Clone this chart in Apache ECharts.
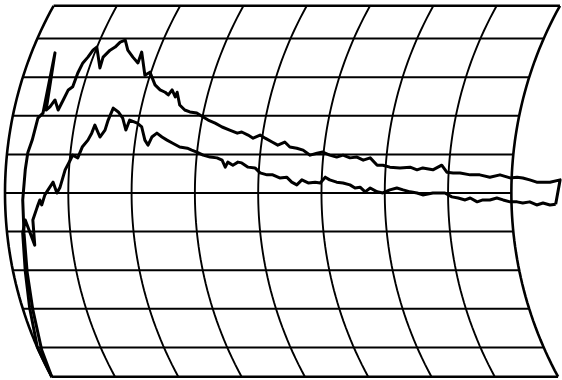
<!DOCTYPE html>
<html>
<head>
<meta charset="utf-8">
<script src="https://cdn.jsdelivr.net/npm/echarts@6/dist/echarts.min.js"></script>
<style>
  html, body {margin: 0; padding: 0; background: #fff;}
  #main {width: 562px; height: 380px;}
</style>
</head>
<body>
<div id="main"></div>
<script>
// chart paper: time divisions (arcs) and value levels (straight lines)
let timeDivs = [0, 1, 2, 3, 4, 5, 6, 7, 8];
let valueLevels = [1, 2, 3, 4, 5, 6, 7, 8, 9];
let paperTop = 9.85;
let paperBottom = 0.24;

// upper trace (x in time divisions, y in value divisions)
let upperX = [0.74, 0.58, 0.44, 0.35, 0.30, 0.28, 0.32, 0.36, 0.43, 0.52, 0.60, 0.79, 0.65, 0.71, 0.79, 0.84, 0.92, 1.00, 1.07, 1.15,
    1.23, 1.31, 1.39, 1.45, 1.50, 1.55, 1.66, 1.74, 1.82, 1.90, 1.94, 2.02, 2.10, 2.16, 2.21, 2.29, 2.37, 2.45, 2.53, 2.58,
    2.64, 2.69, 2.72, 2.76, 2.84, 2.92, 3.03, 3.13, 3.21, 3.32, 3.43, 3.55, 3.67, 3.74, 3.84, 3.92, 4.03, 4.11, 4.22, 4.31,
    4.42, 4.50, 4.61, 4.71, 4.82, 4.93, 5.02, 5.13, 5.24, 5.34, 5.45, 5.56, 5.66, 5.77, 5.88, 5.97, 6.08, 6.24, 6.40, 6.51,
    6.60, 6.76, 6.90, 6.98, 7.08, 7.19, 7.35, 7.50, 7.66, 7.82, 7.98, 8.09, 8.18, 8.29, 8.40, 8.50, 8.61, 8.77, 8.70];
let upperY = [0.23, 0.93, 1.97, 2.95, 3.96, 4.82, 5.60, 6.04, 6.37, 6.94, 7.07, 8.63, 7.15, 7.23, 7.41, 7.15, 7.41, 7.67, 7.75, 8.11,
    8.37, 8.52, 8.70, 8.78, 8.24, 8.52, 8.70, 8.78, 8.91, 8.96, 8.70, 8.52, 8.37, 8.65, 8.05, 8.13, 7.80, 7.67, 7.61, 7.54,
    7.67, 7.49, 7.61, 7.28, 7.15, 7.10, 7.07, 6.97, 6.89, 6.81, 6.71, 6.63, 6.55, 6.58, 6.50, 6.42, 6.50, 6.42, 6.32, 6.24,
    6.32, 6.19, 6.16, 6.11, 5.98, 6.03, 6.06, 5.98, 5.93, 5.98, 5.91, 5.93, 5.85, 5.91, 5.72, 5.72, 5.67, 5.65, 5.67, 5.60,
    5.65, 5.60, 5.72, 5.54, 5.52, 5.52, 5.47, 5.47, 5.41, 5.47, 5.39, 5.41, 5.39, 5.34, 5.28, 5.28, 5.28, 5.34, 4.71];

// lower trace
let lowerX = [0.74, 0.51, 0.39, 0.32, 0.28, 0.32, 0.47, 0.44, 0.51, 0.55, 0.58, 0.63, 0.68, 0.76, 0.82, 0.87, 0.95, 1.03, 1.07, 1.15,
    1.22, 1.31, 1.37, 1.42, 1.50, 1.58, 1.63, 1.71, 1.79, 1.86, 1.91, 1.97, 2.09, 2.16, 2.21, 2.26, 2.32, 2.40, 2.48, 2.56,
    2.65, 2.76, 2.88, 2.95, 3.03, 3.13, 3.24, 3.35, 3.43, 3.48, 3.52, 3.60, 3.68, 3.74, 3.84, 3.95, 4.03, 4.14, 4.23, 4.34,
    4.45, 4.53, 4.61, 4.69, 4.79, 4.90, 4.98, 5.06, 5.13, 5.24, 5.34, 5.45, 5.53, 5.61, 5.69, 5.77, 5.88, 5.97, 6.08, 6.19,
    6.29, 6.40, 6.51, 6.60, 6.76, 6.95, 7.06, 7.16, 7.27, 7.35, 7.46, 7.55, 7.66, 7.77, 7.87, 7.98, 8.09, 8.18, 8.29, 8.40,
    8.50, 8.61, 8.70];
let lowerY = [0.23, 1.01, 2.02, 2.98, 3.96, 4.30, 3.65, 4.30, 4.64, 4.82, 4.69, 4.95, 5.08, 5.28, 5.00, 5.15, 5.60, 5.85, 5.98, 5.91,
    6.19, 6.37, 6.55, 6.76, 6.45, 6.63, 6.89, 7.20, 7.10, 6.94, 6.63, 6.89, 6.81, 6.71, 6.37, 6.24, 6.45, 6.55, 6.45, 6.37,
    6.29, 6.19, 6.16, 6.11, 6.06, 5.98, 5.93, 5.91, 5.85, 5.67, 5.80, 5.72, 5.80, 5.78, 5.67, 5.65, 5.52, 5.47, 5.47, 5.39,
    5.41, 5.28, 5.21, 5.34, 5.26, 5.28, 5.26, 5.41, 5.34, 5.28, 5.26, 5.21, 5.13, 5.15, 5.03, 5.13, 5.03, 5.00, 5.08, 5.13,
    5.08, 5.03, 5.00, 4.95, 5.00, 5.00, 4.90, 4.87, 4.82, 4.87, 4.77, 4.82, 4.82, 4.87, 4.82, 4.77, 4.77, 4.74, 4.77, 4.69,
    4.74, 4.69, 4.71];

// pen arc shape (in axis units)
let arcMid = 5;
let arcA = 6.08;
let arcB = 9.97;

function bend(v){
    let t = (v - arcMid) / arcB;
    return arcA * (1 - Math.sqrt(1 - t * t));
}

function zip(xs, ys){
    let out = [];
    for (let i = 0; i < xs.length; i++){
        out.push([xs[i], ys[i]]);
    }
    return out;
}

function paperLine(data, width){
    return {
        type: 'line',
        data: data,
        symbol: 'none',
        silent: true,
        lineStyle: {color: '#000', width: width},
        z: 1
    };
}

let series = [];
let last = timeDivs[timeDivs.length - 1];

for (let k of timeDivs){
    let pts = [];
    for (let i = 0; i <= 60; i++){
        let v = paperBottom + (paperTop - paperBottom) * i / 60;
        pts.push([k + bend(v), v]);
    }
    let edge = (k === timeDivs[0] || k === last);
    series.push(paperLine(pts, edge ? 2.6 : 1.9));
}

for (let v of [paperBottom].concat(valueLevels, [paperTop])){
    let edge = (v === paperBottom || v === paperTop);
    series.push(paperLine([[timeDivs[0] + bend(v), v], [last + bend(v), v]], edge ? 2.4 : 2));
}

for (let trace of [zip(upperX, upperY), zip(lowerX, lowerY)]){
    series.push({
        type: 'line',
        data: trace,
        symbol: 'none',
        lineStyle: {color: '#000', width: 3, join: 'round'},
        z: 3
    });
}

let option = {
    animation: false,
    backgroundColor: '#fff',
    grid: {left: 5, top: 0, width: 557, height: 380},
    xAxis: {type: 'value', min: 0, max: 8.8, show: false},
    yAxis: {type: 'value', min: 0.155, max: 10, show: false},
    series: series
};

let chart = echarts.init(document.getElementById('main'));
chart.setOption(option);
</script>
</body>
</html>
